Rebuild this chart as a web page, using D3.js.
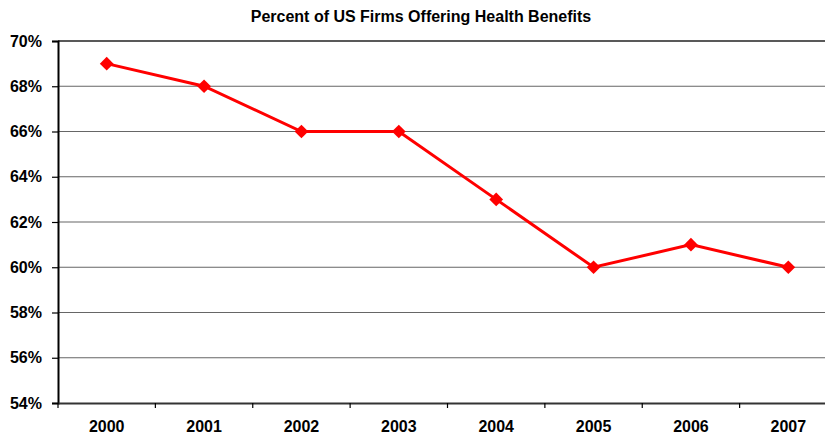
<!DOCTYPE html>
<html><head><meta charset="utf-8">
<script src="https://cdn.jsdelivr.net/npm/d3@7"></script>
<style>body{margin:0;background:#fff}svg{display:block}</style>
</head><body>
<script>
const years = ["2000","2001","2002","2003","2004","2005","2006","2007"];
const percents = [69, 68, 66, 66, 63, 60, 61, 60];
const yTicks = [54, 56, 58, 60, 62, 64, 66, 68, 70];
const title = "Percent of US Firms Offering Health Benefits";

const W = 825, H = 438;
const m = {left: 58, top: 41, right: 837, bottom: 403};
const svg = d3.select("body").append("svg").attr("width", W).attr("height", H);
const x = d3.scaleBand().domain(years).range([m.left, m.right]);
const y = d3.scaleLinear().domain([54, 70]).range([m.bottom, m.top]);
const font = "Liberation Sans, Arial, sans-serif";

svg.append("text").attr("x", 421).attr("y", 22).attr("text-anchor", "middle")
  .attr("font-family", font).attr("font-weight", "bold").attr("font-size", 16).text(title);

// grid
svg.append("g").selectAll("line").data(yTicks.slice(1)).join("line")
  .attr("x1", m.left).attr("x2", m.right).attr("y1", d => y(d)).attr("y2", d => y(d))
  .attr("stroke", d => d === 70 ? "#222" : "#666").attr("stroke-width", d => d === 70 ? 1.6 : 1.2);

// y axis
const ya = svg.append("g").attr("transform", `translate(${m.left},0)`)
  .call(d3.axisLeft(y).tickValues(yTicks).tickSize(6).tickFormat(d => d + "%"));
ya.select(".domain").attr("stroke", "#000").attr("stroke-width", 2);
ya.selectAll(".tick line").attr("stroke", "#000").attr("stroke-width", 1.2);
ya.selectAll("text").attr("font-family", font).attr("font-weight", "bold").attr("font-size", 16)
  .attr("fill", "#000").attr("x", -16);

// x axis
const xa = svg.append("g").attr("transform", `translate(0,${m.bottom})`)
  .call(d3.axisBottom(x).tickSize(0).tickSizeOuter(0));
xa.select(".domain").attr("stroke", "#333").attr("stroke-width", 2);
xa.selectAll("text").attr("font-family", font).attr("font-weight", "bold").attr("font-size", 16)
  .attr("fill", "#000").attr("dy", 0).attr("y", 29);
svg.append("g").selectAll("line").data(years).join("line")
  .attr("x1", d => x(d)).attr("x2", d => x(d)).attr("y1", m.bottom).attr("y2", m.bottom + 5)
  .attr("stroke", "#000").attr("stroke-width", 1.2);

// line
const cx = d => x(d) + x.bandwidth() / 2;
svg.append("path").datum(percents)
  .attr("d", d3.line().x((d, i) => cx(years[i])).y(d => y(d)))
  .attr("fill", "none").attr("stroke", "#ff0000").attr("stroke-width", 3);
svg.append("g").selectAll("path").data(percents).join("path")
  .attr("d", d3.symbol().type(d3.symbolDiamond2).size(120))
  .attr("transform", (d, i) => `translate(${cx(years[i])},${y(d)})`)
  .attr("fill", "#ff0000");
</script>
</body></html>
